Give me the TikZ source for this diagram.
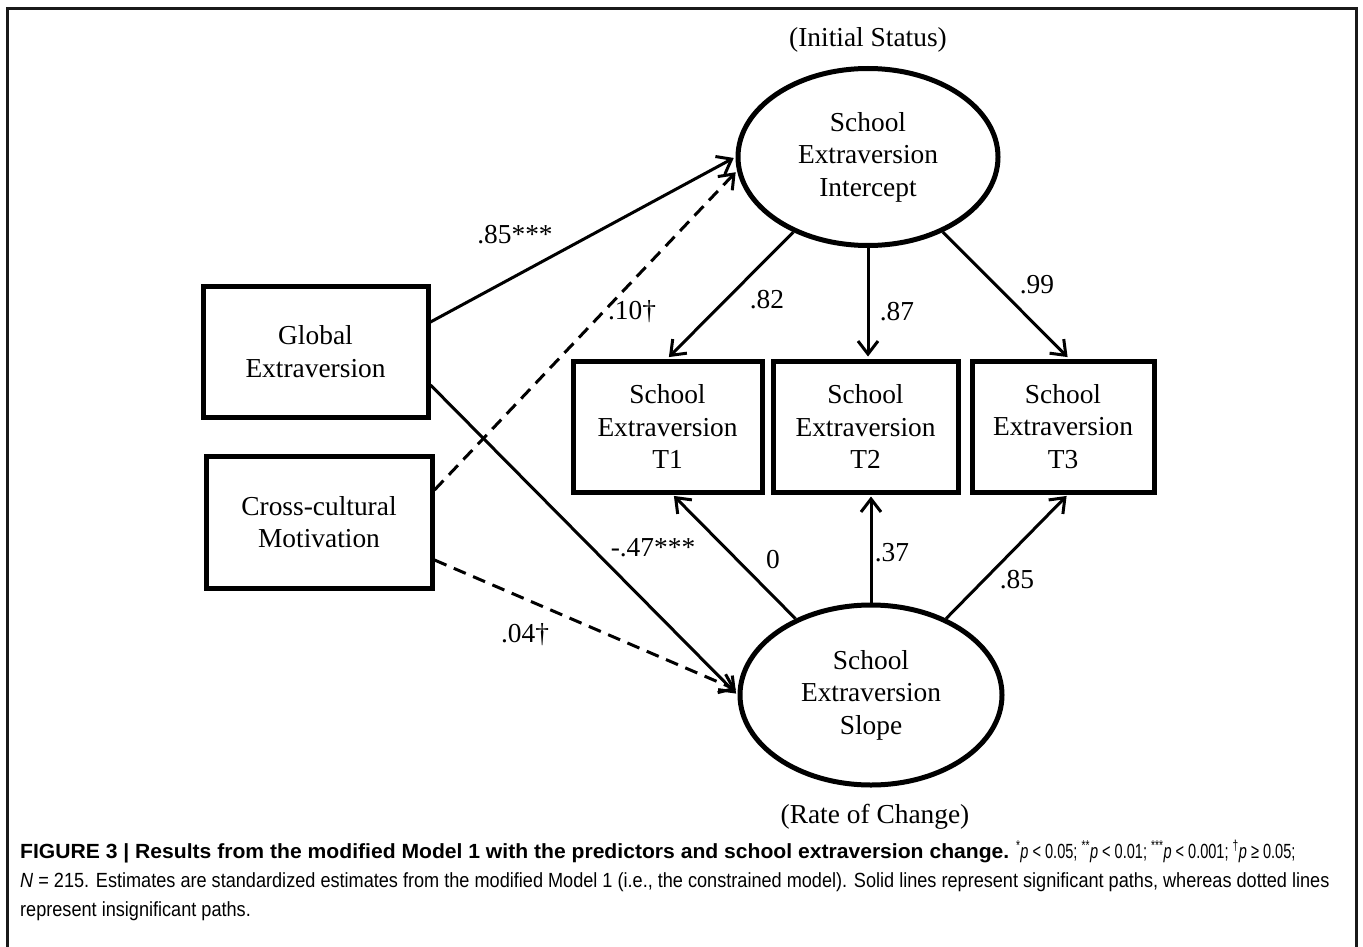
\documentclass[tikz,border=0pt]{standalone}
\usepackage{fontspec}
\setmainfont{Liberation Serif}
\newfontfamily\capfont{Liberation Sans}[FakeStretch=0.884]
\newfontfamily\capbold{Liberation Sans}[FakeStretch=1.03]
\newfontfamily\capnarrow{Liberation Sans}[FakeStretch=0.71]
\usepackage{tikz}
\usetikzlibrary{shapes.geometric,arrows.meta,calc}
\newcommand{\semfont}{\fontsize{27.4}{32.5}\selectfont}
\tikzstyle{obs}=[rectangle, draw, line width=5pt, align=center,% measured variables
inner sep=0pt, font=\semfont]
\tikzstyle{lat}=[ellipse, draw, line width=5pt, align=center,% growth factors
inner sep=0pt, font=\semfont]
\tikzstyle{sig}=[-{Straight Barb[length=13pt,width=20pt]}, line width=3pt, shorten >=2pt]
\tikzstyle{nonsig}=[sig, dash pattern=on 13pt off 8pt]
\tikzstyle{coef}=[inner sep=0pt, font=\semfont]
\begin{document}
\begin{tikzpicture}[x=1pt,y=-1pt]
\useasboundingbox (0,0) rectangle (1363,947);
\draw[line width=3pt, color=black!90] (7,950) -- (7,9) -- (1356,9) -- (1356,950);
\node[lat, minimum width=260pt, minimum height=177pt] (I) at (868,157) {School\\Extraversion\\Intercept};
\node[lat, minimum width=262pt, minimum height=180pt] (S) at (871,695) {School\\Extraversion\\Slope};
\node[coef] (IS) at (868,40) {(Initial Status)};
\node[coef] (RC) at (875,817) {(Rate of Change)};
\node[obs, minimum width=225pt, minimum height=131pt] (GE) at (315.5,351.5) {Global\\Extraversion};
\node[obs, minimum width=226pt, minimum height=132pt] (CM) at (319,522) {Cross-cultural\\Motivation};
\node[obs, minimum width=189pt, minimum height=131pt] (T1) at (667.5,426.5) {School\\Extraversion\\T1};
\node[obs, minimum width=185pt, minimum height=131pt] (T2) at (865.5,426.5) {School\\Extraversion\\T2};
\node[obs, minimum width=182pt, minimum height=131pt] (T3) at (1063,426.5) {School\\Extraversion\\T3};
% predictors
\draw[sig] ($(GE.east)+(0,-29.5)$) -- (I.west);
\draw[nonsig] ($(CM.east)+(0,-32)$) -- (I.186);
\draw[sig] ($(GE.east)+(0,33.5)$) -- (S.west);
\draw[nonsig] ($(CM.east)+(0,38)$) -- (S.178);
% loadings
\draw[sig] (I) -- (T1.north);
\draw[sig] (I.south) -- (I.south |- T2.north);
\draw[sig] (I) -- ($(T3.north)+(6,0)$);
\draw[sig] (S) -- ($(T1.south)+(5,0)$);
\draw[sig] (S.north) -- (S.north |- T2.south);
\draw[sig] (S) -- ($(T3.south)+(5,0)$);
% estimates
\node[coef] (c1) at (515,235) {.85***};
\node[coef] (c2) at (632,312) {.10\dag};
\node[coef] (c3) at (653,548) {-.47***};
\node[coef] (c4) at (525,635) {.04\dag};
\node[coef] (c5) at (767,300) {.82};
\node[coef] (c6) at (897,312) {.87};
\node[coef] (c7) at (1037,285) {.99};
\node[coef] (c8) at (773,560) {0};
\node[coef] (c9) at (892,553) {.37};
\node[coef] (c10) at (1017,580) {.85};
% caption
\node[anchor=north west, inner sep=0pt, align=left, font=\capfont\fontsize{20.5}{29}\selectfont] (cap) at (20,840)
{{\capbold\bfseries FIGURE 3 | Results from the modified Model 1 with the predictors and school extraversion change.} {\capnarrow\textsuperscript{*}\textit{p} < 0.05; \textsuperscript{**}\textit{p} < 0.01; \textsuperscript{***}\textit{p} < 0.001; \textsuperscript{\dag}\textit{p} ≥ 0.05;}\\
\textit{N} = 215. Estimates are standardized estimates from the modified Model 1 (i.e., the constrained model). Solid lines represent significant paths, whereas dotted lines\\
represent insignificant paths.};
\end{tikzpicture}
\end{document}
